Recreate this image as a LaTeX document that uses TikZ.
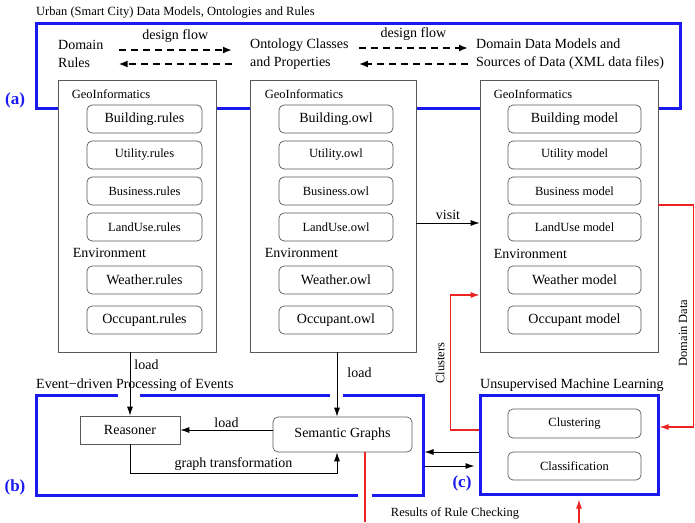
\documentclass[tikz,border=0pt]{standalone}
\usepackage{fontspec}
\setmainfont{Liberation Serif}
\usetikzlibrary{calc}
\usetikzlibrary{arrows.meta}
\newcommand{\bigtext}{\fontsize{14}{18}\selectfont}
\newcommand{\smalltext}{\fontsize{12.5}{15}\selectfont}
\newcommand{\tagtext}{\fontsize{17}{20}\selectfont\bfseries}
\definecolor{frameblue}{RGB}{25,25,240}
\definecolor{linkred}{RGB}{235,35,35}
\tikzset{frame/.style={draw=#1,line width=3pt,inner sep=0pt},frame/.default=frameblue}
\tikzset{column/.style={draw=gray!70!black,fill=white,line width=0.7pt,minimum height=272pt,minimum width=#1,inner sep=0pt},column/.default=158pt}
\tikzset{item/.style={draw=gray!70!black,line width=0.7pt,rounded corners=5pt,minimum height=28pt,minimum width=#1,inner sep=0pt,font=\smalltext},item/.default=115pt}
\tikzset{txt/.style={anchor=west,align=left,inner sep=0pt}}
\tikzset{hdr/.style={anchor=west,inner sep=0pt,font=\smalltext}}
\tikzset{lbl/.style={inner sep=1pt}}
\tikzset{tag/.style={color=frameblue,font=\tagtext,inner sep=0pt}}
\tikzset{gap/.style={draw=white,line width=5pt}}
\tikzset{flow/.style={line width=2pt,dash pattern=on 7pt off 5pt,-{Latex[length=9pt,width=7pt]}}}
\tikzset{link/.style={line width=0.9pt,-{Latex[length=9pt,width=6pt]}}}
\tikzset{redlink/.style={draw=linkred,line width=1.2pt}}
\tikzset{redarrow/.style={redlink,-{Latex[length=9pt,width=6pt]}}}

\begin{document}
\begin{tikzpicture}[x=1pt,y=-1pt,font=\bigtext]
	\useasboundingbox (0,0) rectangle (695,522);

	% (a) models, ontologies and rules
	\node[hdr] (ttl) at (36,13) {Urban (Smart City) Data Models, Ontologies and Rules};
	\node[frame,minimum width=644pt,minimum height=85pt] (fa) at (358,65.5) {};
	\node[tag] (tga) at (15,100) {(a)};

	\node[txt] (dr) at (58,54) {Domain\\Rules};
	\node[txt] (oc) at (250,54) {Ontology Classes\\and Properties};
	\node[txt] (dm) at (476,54) {Domain Data Models and\\Sources of Data (XML data files)};

	\draw[flow] ([xshift=15pt,yshift=4pt]dr.east) -- node[lbl,above=5pt]{design flow} ([xshift=-18pt,yshift=4pt]oc.west);
	\draw[flow] ([xshift=-18pt,yshift=-10pt]oc.west) -- ([xshift=15pt,yshift=-10pt]dr.east);
	\draw[flow] ([xshift=10pt,yshift=6pt]oc.east) -- node[lbl,above=5pt]{design flow} ([xshift=-8pt,yshift=6pt]dm.west);
	\draw[flow] ([xshift=-8pt,yshift=-10pt]dm.west) -- ([xshift=10pt,yshift=-10pt]oc.east);

	\node[column=158pt] (cl) at (137,216) {};
	\node[column=166pt] (cm) at (333,216) {};
	\node[column=178pt] (cr) at (569,216) {};

	\node[hdr] (gl) at ($(cl.north west)+(14,15)$) {GeoInformatics};
	\node[hdr] (gm) at ($(cm.north west)+(15,15)$) {GeoInformatics};
	\node[hdr] (gr) at ($(cr.north west)+(14,15)$) {GeoInformatics};
	\node[hdr,font=\bigtext] (el) at ($(cl.north west)+(15,173)$) {Environment};
	\node[hdr,font=\bigtext] (em) at ($(cm.north west)+(15,173)$) {Environment};
	\node[hdr,font=\bigtext] (er) at ($(cr.north west)+(14,174)$) {Environment};

	% rules
	\node[item,font=\bigtext] (bl) at (144.5,119) {Building.rules};
	\node[item] (ul) at (144.5,155) {Utility.rules};
	\node[item] (sl) at (144.5,191) {Business.rules};
	\node[item] (ll) at (144.5,227) {LandUse.rules};
	\node[item,font=\bigtext] (wl) at (144.5,280) {Weather.rules};
	\node[item,font=\bigtext] (ol) at (144.5,320) {Occupant.rules};

	% ontologies
	\node[item=114pt,font=\bigtext] (bm) at (336,119) {Building.owl};
	\node[item=114pt] (um) at (336,155) {Utility.owl};
	\node[item=114pt] (sm) at (336,191) {Business.owl};
	\node[item=114pt] (lm) at (336,227) {LandUse.owl};
	\node[item=114pt,font=\bigtext] (wm) at (336,280) {Weather.owl};
	\node[item=114pt,font=\bigtext] (om) at (336,320) {Occupant.owl};

	% data models
	\node[item=133pt,font=\bigtext] (br) at (574.5,119) {Building model};
	\node[item=133pt] (ur) at (574.5,155) {Utility model};
	\node[item=133pt] (sr) at (574.5,191) {Business model};
	\node[item=133pt] (lr) at (574.5,227) {LandUse model};
	\node[item=133pt,font=\bigtext] (wr) at (574.5,280) {Weather model};
	\node[item=133pt,font=\bigtext] (or) at (574.5,320) {Occupant model};

	\draw[link] ([yshift=-7pt]cm.east) -- node[lbl,above=2pt]{visit} ([yshift=-7pt]cr.west);

	% (b) event-driven processing
	\node[frame,minimum width=387pt,minimum height=100pt] (fb) at (229.5,445) {};
	\draw[gap] (118,395) -- (140,395);
	\draw[gap] (330,395) -- (343,395);
	\draw[gap] (358,495) -- (372,495);
	\node[anchor=base west,inner sep=0pt] (tb) at (36,388) {Event−driven Processing of Events};
	\node[tag] (tgb) at (15,487) {(b)};

	\node[draw=gray!70!black,line width=0.7pt,minimum width=100pt,minimum height=28pt] (rs) at (130,430) {Reasoner};
	\node[item=139pt,minimum height=35pt,font=\bigtext] (sg) at (342.5,434.5) {Semantic Graphs};
	\coordinate (sgt) at ($(sg.north)+(-5.5,0)$);
	\coordinate (sgb) at ($(sg.south)+(-5.5,0)$);
	\coordinate (gtl) at ($(rs.south)+(0,29)$);

	\draw[link] (cl.south -| rs.north) -- node[lbl,pos=0.2,right=3pt]{load} (rs.north);
	\draw[link] (cm.south -| sgt) -- node[lbl,pos=0.32,right=9pt]{load} (sgt);
	\draw[link] (sg.west |- rs.east) -- node[lbl,above=1pt]{load} (rs.east);
	\draw[link] (rs.south) -- (gtl) -- node[lbl,above=1pt]{graph transformation} (gtl -| sgb) -- (sgb);

	% (c) machine learning
	\node[frame,minimum width=178pt,minimum height=99pt] (fc) at (569,444.5) {};
	\node[anchor=base west,inner sep=0pt] (tc) at (480,388) {Unsupervised Machine Learning};
	\node[tag] (tgc) at (462,483) {(c)};
	\node[item=133pt,minimum height=29pt] (cu) at (574.5,423.5) {Clustering};
	\node[item=133pt] (cf) at (574.5,466) {Classification};

	\coordinate (cw1) at ([yshift=-7.5pt]fc.west);
	\coordinate (cw2) at ([yshift=-21.5pt]fc.west);
	\draw[link] (cw1) -- (cw1 -| fb.east);
	\draw[link] (cw2 -| fb.east) -- ([xshift=-4pt]cw2);

	% red feedback lines
	\coordinate (dd) at ([yshift=11pt]cr.east);
	\coordinate (fce) at ([yshift=17.5pt]fc.east);
	\draw[redarrow] (dd) -- ++(35,0) |- (fce);
	\node[lbl,rotate=90,font=\smalltext] (ddl) at (683,333) {Domain Data};

	\coordinate (cls) at ([yshift=14.5pt]fc.west);
	\coordinate (crw) at ([yshift=-79pt]cr.west);
	\draw[redarrow] (cls) -- ++(-28,0) |- (crw);
	\node[lbl,rotate=90,font=\smalltext] (cll) at (440,363) {Clusters};

	\draw[redlink] ($(sg.south)+(22.5,0)$) -- ++(0,70);
	\draw[redarrow] ($(fc.south)+(10,28)$) -- ($(fc.south)+(10,4)$);
	\node[lbl,font=\smalltext] (rrc) at (455,513) {Results of Rule Checking};
\end{tikzpicture}
\end{document}
